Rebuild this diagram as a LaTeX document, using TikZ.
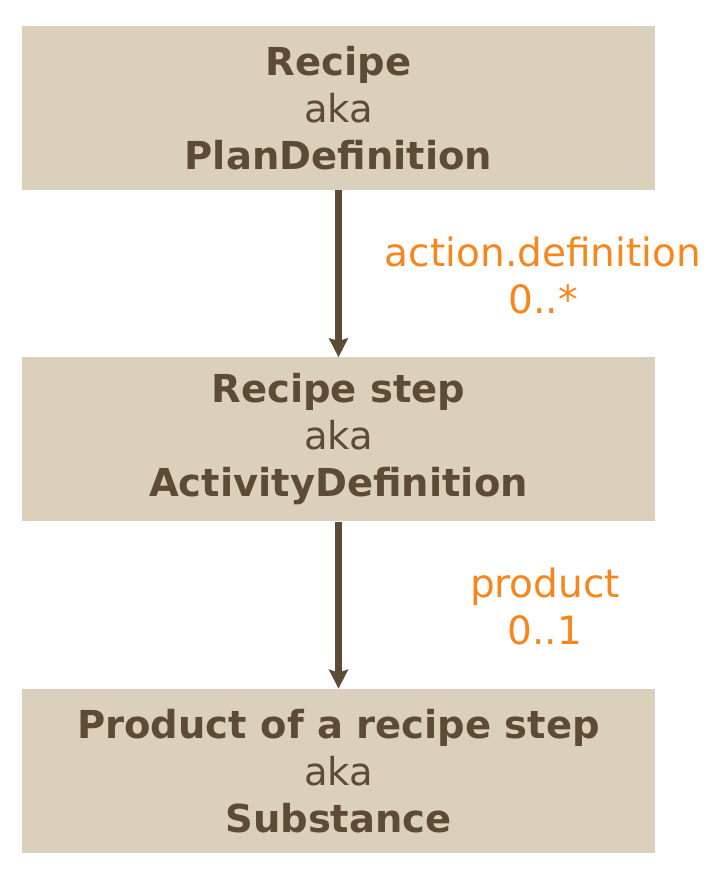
\documentclass[tikz,border=0pt]{standalone}
\usepackage{fontspec}
\setmainfont{DejaVu Sans}
\usetikzlibrary{positioning,arrows.meta}
\definecolor{boxfill}{HTML}{DBD0BC}
\definecolor{boxtext}{HTML}{5E4B35}
\definecolor{rolecol}{HTML}{F7861C}

\begin{document}
\begin{tikzpicture}[x=1pt, y=1pt,
		box/.style={fill=boxfill, text=boxtext, minimum width=633pt, minimum height=164pt, inner sep=0pt, align=center, font=\fontsize{38.5}{47}\selectfont},
		role/.style={text=rolecol, align=center, font=\fontsize{39}{47}\selectfont},
		link/.style={draw=boxtext, line width=6.5pt, -{Stealth[length=19pt,width=19pt,inset=3pt]}},
		node distance=167pt]
	\useasboundingbox (0,0) rectangle (719,-871);
	%
	\node[box] (plan) at (338.5,-108) {\textbf{Recipe}\\aka\\\textbf{PlanDefinition}};
	\node[box, below=of plan] (activity) {\textbf{Recipe step}\\aka\\\textbf{ActivityDefinition}};
	\node[box, below=of activity] (substance) {\textbf{Product of a recipe step}\\aka\\\textbf{Substance}};
	%
	\draw[link] (plan) -- (activity);
	\draw[link] (activity) -- (substance);
	%
	\node[role] (actdef) at (543,-275) {action.definition\\0..*};
	\node[role] (prod) at (545,-606) {product\\0..1};
\end{tikzpicture}
\end{document}
